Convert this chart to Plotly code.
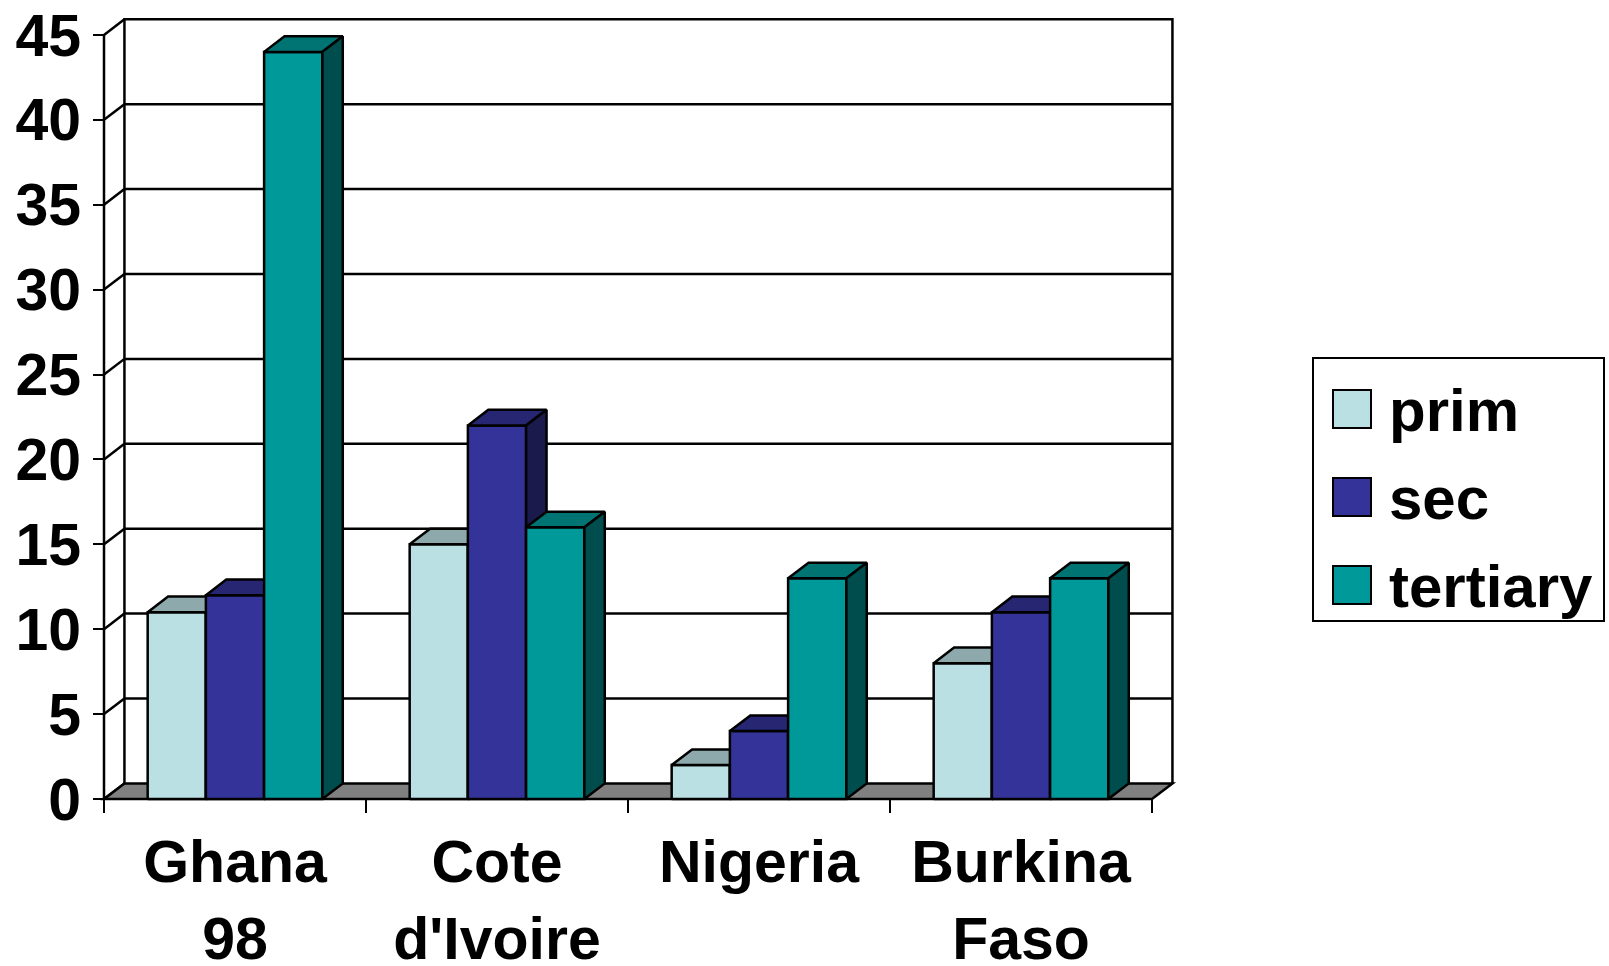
import plotly.graph_objects as go

# ---- data ----
categories = ["Ghana<br>98", "Cote<br>d'Ivoire", "Nigeria", "Burkina<br>Faso"]
series_names = ["prim", "sec", "tertiary"]
prim = [11, 15, 2, 8]
sec = [12, 22, 4, 11]
tertiary = [44, 16, 13, 13]
y_tick_values = [0, 5, 10, 15, 20, 25, 30, 35, 40, 45]

series_values = [prim, sec, tertiary]

# face colours: front, top, side
palette = {
    "prim": ("#BBE0E3", "#8DA9AB", "#5D7072"),
    "sec": ("#333399", "#262673", "#1A1A4D"),
    "tertiary": ("#009999", "#007373", "#004D4D"),
}

FONT = "Liberation Sans, Arial, sans-serif"

# ---- 3D geometry (in axis units) ----
N_CAT = len(categories)
BAR_W = 1 / 4.5            # three bars + 150% gap per category
GAP_OFF = 0.75 * BAR_W
DX = 0.078                 # depth offset, category units
DY = 0.92                  # depth offset, value units
Y_MAX = y_tick_values[-1]

# ---- page / axis mapping ----
W, H = 1609, 966
ML, MR, MT, MB = 90, 418, 10, 156
PLOT_W = W - ML - MR
PLOT_H = H - MT - MB
ORIGIN_X, ORIGIN_Y = 104, 799       # pixel of (0, 0) on the front plane
PX_PER_CAT = 262
PX_PER_VAL = 16.98

x_min = (ML - ORIGIN_X) / PX_PER_CAT
x_max = x_min + PLOT_W / PX_PER_CAT
y_min = -((H - MB) - ORIGIN_Y) / PX_PER_VAL
y_max = y_min + PLOT_H / PX_PER_VAL

fig = go.Figure()

# ---- walls, floor and gridlines ----
shapes = []
line_k = dict(color="black", width=2.5)
# floor
shapes.append(dict(type="path", xref="x", yref="y", layer="below",
                   path=f"M 0 0 L {N_CAT} 0 L {N_CAT + DX} {DY} L {DX} {DY} Z",
                   fillcolor="#808080", line=line_k))
# back wall outline
shapes.append(dict(type="path", xref="x", yref="y", layer="below",
                   path=f"M {DX} {DY} L {DX} {Y_MAX + DY} L {N_CAT + DX} {Y_MAX + DY} L {N_CAT + DX} {DY}",
                   line=line_k))
# gridlines on back wall and diagonals on the side wall
for v in y_tick_values:
    if 0 < v < Y_MAX:
        shapes.append(dict(type="line", xref="x", yref="y", layer="below",
                           x0=DX, x1=N_CAT + DX, y0=v + DY, y1=v + DY, line=line_k))
    shapes.append(dict(type="line", xref="x", yref="y", layer="below",
                       x0=0, x1=DX, y0=v, y1=v + DY, line=line_k))
# front vertical axis edge
shapes.append(dict(type="line", xref="x", yref="y", layer="below",
                   x0=0, x1=0, y0=0, y1=Y_MAX, line=line_k))

# ---- bars: front, top and side faces drawn back-to-front per series ----
for s, (name, vals) in enumerate(zip(series_names, series_values)):
    front_c, top_c, side_c = palette[name]
    fx, fy, tx, ty, sx, sy = [], [], [], [], [], []
    for c, v in enumerate(vals):
        x0 = c + GAP_OFF + s * BAR_W
        x1 = x0 + BAR_W
        fx += [x0, x1, x1, x0, x0, None]
        fy += [0, 0, v, v, 0, None]
        tx += [x0, x1, x1 + DX, x0 + DX, x0, None]
        ty += [v, v, v + DY, v + DY, v, None]
        sx += [x1, x1 + DX, x1 + DX, x1, x1, None]
        sy += [0, DY, v + DY, v, 0, None]
    for xs, ys, col in ((fx, fy, front_c), (tx, ty, top_c), (sx, sy, side_c)):
        fig.add_trace(go.Scatter(
            x=xs, y=ys, mode="lines", fill="toself", fillcolor=col,
            line=dict(color="black", width=2.5), name=name,
            showlegend=False, hoverinfo="skip"))

# ---- legend (drawn manually to get large swatches) ----
def px_to_fx(px):
    return (px - ML) / PLOT_W

def py_to_fy(py):
    return ((H - MB) - py) / PLOT_H

shapes.append(dict(type="rect", xref="paper", yref="paper", layer="above",
                   x0=px_to_fx(1313), x1=px_to_fx(1604),
                   y0=py_to_fy(621), y1=py_to_fy(358),
                   line=dict(color="black", width=2), fillcolor="white"))
annotations = []
legend_centers = [409, 497, 585]
for name, cy in zip(series_names, legend_centers):
    shapes.append(dict(type="rect", xref="paper", yref="paper", layer="above",
                       x0=px_to_fx(1333), x1=px_to_fx(1371),
                       y0=py_to_fy(cy + 19), y1=py_to_fy(cy - 19),
                       line=dict(color="black", width=2),
                       fillcolor=palette[name][0]))
    annotations.append(dict(xref="paper", yref="paper", x=px_to_fx(1387),
                            y=py_to_fy(cy + 1), xanchor="left", yanchor="middle",
                            text=name, showarrow=False,
                            font=dict(family=FONT, size=60, color="black", weight="bold")))

fig.update_layout(
    width=W, height=H,
    margin=dict(l=ML, r=MR, t=MT, b=MB, pad=0, autoexpand=False),
    paper_bgcolor="white", plot_bgcolor="white",
    showlegend=False,
    shapes=shapes,
    annotations=annotations,
    xaxis=dict(
        range=[x_min, x_max], anchor="free",
        position=(0 - y_min) / (y_max - y_min),
        tickmode="array",
        tickvals=[c + 0.5 for c in range(N_CAT)], ticktext=categories,
        ticks="", showline=False, showgrid=False, zeroline=False,
        ticklabelstandoff=23, automargin=False,
        tickfont=dict(family=FONT, size=59, color="black", weight="bold"),
        minor=dict(tickmode="array", tickvals=list(range(N_CAT + 1)),
                   ticks="outside", ticklen=13, tickwidth=2, tickcolor="black",
                   showgrid=False),
        fixedrange=True,
    ),
    yaxis=dict(
        range=[y_min, y_max], anchor="free",
        position=(0 - x_min) / (x_max - x_min),
        tickmode="array", tickvals=y_tick_values,
        ticks="outside", ticklen=11, tickwidth=2, tickcolor="black",
        showline=False, showgrid=False, zeroline=False, automargin=False,
        tickfont=dict(family=FONT, size=59, color="black", weight="bold"),
        fixedrange=True,
    ),
)

fig.write_html("out.html")
